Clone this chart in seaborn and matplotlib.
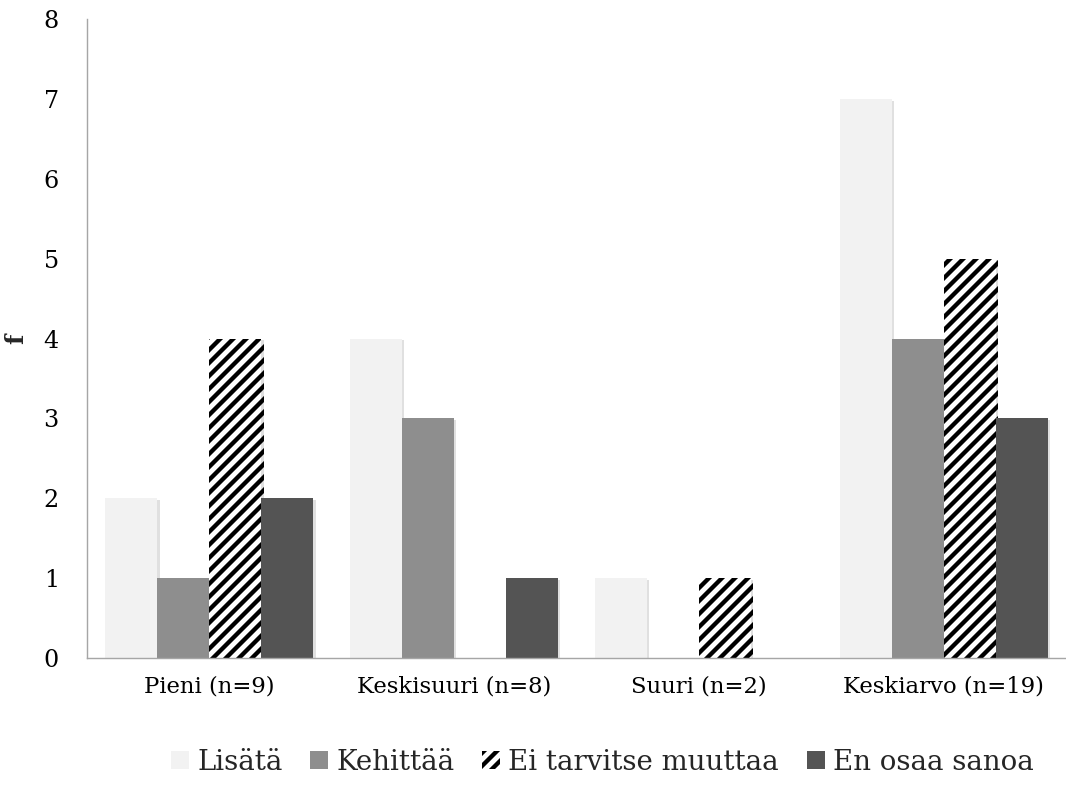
import matplotlib
matplotlib.use("Agg")
import matplotlib.pyplot as plt
import matplotlib.patheffects as pe
from matplotlib.patches import Patch
import pandas as pd
import seaborn as sns

ryhmat = ["Pieni (n=9)", "Keskisuuri (n=8)", "Suuri (n=2)", "Keskiarvo (n=19)"]
sarjat = ["Lisätä", "Kehittää", "Ei tarvitse muuttaa", "En osaa sanoa"]
lisata = [2, 4, 1, 7]
kehittaa = [1, 3, 0, 4]
ei_tarvitse = [4, 0, 1, 5]
en_osaa = [2, 1, 0, 3]
y_ticks = [0, 1, 2, 3, 4, 5, 6, 7, 8]

varit = ["#F2F2F2", "#8E8E8E", "#FFFFFF", "#545454"]

rows = []
for nimi, arvot in zip(sarjat, [lisata, kehittaa, ei_tarvitse, en_osaa]):
    for g, v in zip(ryhmat, arvot):
        rows.append({"ryhma": g, "sarja": nimi, "f": v})
t = pd.DataFrame(rows)

sns.set_style("white")
plt.rcParams["font.family"] = ["DejaVu Serif"]
plt.rcParams["hatch.linewidth"] = 4.0

DPI = 78
fig = plt.figure(figsize=(1066 / DPI, 791 / DPI), dpi=DPI)
ax = fig.add_axes([87 / 1066, 1 - 658 / 791, 1 - 87 / 1066, (658 - 19) / 791])

sns.barplot(data=t, x="ryhma", y="f", hue="sarja", order=ryhmat, hue_order=sarjat,
            palette=varit, width=0.85, saturation=1, legend=False, ax=ax)

varjo = [pe.SimplePatchShadow(offset=(2, -1.5), shadow_rgbFace="#000000", alpha=0.12), pe.Normal()]
for i, cont in enumerate(ax.containers):
    for p in cont.patches:
        p.set_linewidth(0)
        if p.get_height() > 0:
            p.set_path_effects(varjo)
        if sarjat[i] == "Ei tarvitse muuttaa":
            p.set_facecolor("white")
            p.set_edgecolor("black")
            p.set_hatch("//")

ax.set_xlim(-0.5, 3.5)
ax.set_ylim(0, 8)
ax.set_yticks(y_ticks)
ax.tick_params(axis="both", length=0, colors="#000000")
ax.tick_params(axis="x", labelsize=21, pad=16)
ax.tick_params(axis="y", labelsize=22, pad=26)
for s in ["top", "right"]:
    ax.spines[s].set_visible(False)
ax.spines["left"].set_color("#A6A6A6")
ax.spines["bottom"].set_color("#A6A6A6")
ax.spines["left"].set_linewidth(1.3)
ax.spines["bottom"].set_linewidth(1.3)
ax.set_xlabel("")
ax.set_ylabel("f", fontsize=22, fontweight="bold", labelpad=14)

kahvat = []
for nimi, vari in zip(sarjat, varit):
    if nimi == "Ei tarvitse muuttaa":
        kahvat.append(Patch(facecolor="white", edgecolor="black", hatch="//", linewidth=0, label=nimi))
    else:
        kahvat.append(Patch(facecolor=vari, linewidth=0, label=nimi))
fig.legend(handles=kahvat, loc="center", bbox_to_anchor=(0.565, 1 - 762 / 791), ncol=4,
           frameon=False, fontsize=25.5, handlelength=0.65, handleheight=0.65,
           handletextpad=0.3, columnspacing=1.0)

fig.savefig("out.png", dpi=DPI)
